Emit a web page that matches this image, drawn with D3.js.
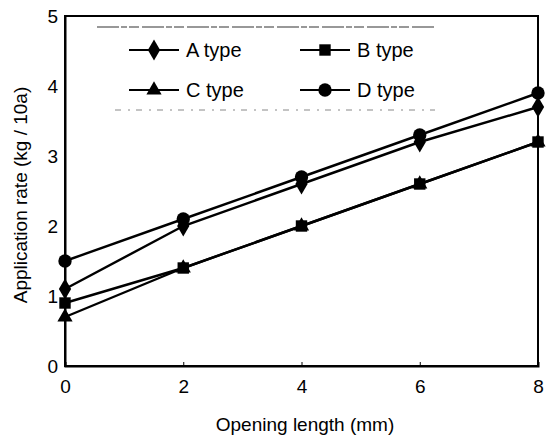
<!DOCTYPE html>
<html>
<head>
<meta charset="utf-8">
<script src="https://cdn.jsdelivr.net/npm/d3@7"></script>
<style>
  body { margin: 0; background: #fff; }
  svg text { font-family: "Liberation Sans", Arial, sans-serif; fill: #000; }
</style>
</head>
<body>
<svg id="chart"></svg>
<script>
const openings = [0, 2, 4, 6, 8];
const aType = [1.1, 2.0, 2.6, 3.2, 3.7];
const bType = [0.9, 1.4, 2.0, 2.6, 3.2];
const cType = [0.7, 1.4, 2.0, 2.6, 3.2];
const dType = [1.5, 2.1, 2.7, 3.3, 3.9];
const yTicks = [0, 1, 2, 3, 4, 5];

const width = 547;
const height = 441;
const margin = { top: 16, right: 9, bottom: 75, left: 65 };

const svg = d3.select('#chart')
  .attr('width', width)
  .attr('height', height);

const x = d3.scaleLinear().domain([0, 8]).range([margin.left, width - margin.right]);
const y = d3.scaleLinear().domain([0, 5]).range([height - margin.bottom, margin.top]);

// frame
svg.append('rect')
  .attr('x', x(0)).attr('y', y(5))
  .attr('width', x(8) - x(0)).attr('height', y(0) - y(5))
  .attr('fill', 'none').attr('stroke', '#000').attr('stroke-width', 2);

// axes
svg.append('g')
  .attr('transform', `translate(0,${y(0)})`)
  .call(d3.axisBottom(x).tickValues(openings).tickFormat(d3.format('d')).tickSize(-4).tickPadding(14))
  .call(g => g.select('.domain').attr('stroke-width', 2))
  .selectAll('text').attr('font-size', 19).attr('font-family', null);

svg.append('g')
  .attr('transform', `translate(${x(0)},0)`)
  .call(d3.axisLeft(y).tickValues(yTicks).tickFormat(d3.format('d')).tickSize(0).tickPadding(7))
  .call(g => g.select('.domain').attr('stroke-width', 2))
  .selectAll('text').attr('font-size', 19).attr('font-family', null);

// axis titles
svg.append('text')
  .attr('x', 305).attr('y', 431)
  .attr('text-anchor', 'middle').attr('font-size', 19)
  .text('Opening length (mm)');

svg.append('text')
  .attr('transform', `translate(27,195) rotate(-90)`)
  .attr('text-anchor', 'middle').attr('font-size', 19)
  .text('Application rate (kg / 10a)');

// series
const series = [
  { name: 'A type', values: aType, symbol: d3.symbolDiamond, size: 130 },
  { name: 'B type', values: bType, symbol: d3.symbolSquare, size: 130 },
  { name: 'C type', values: cType, symbol: d3.symbolTriangle, size: 100 },
  { name: 'D type', values: dType, symbol: d3.symbolCircle, size: 140 }
];

const line = d3.line()
  .x((d, i) => x(openings[i]))
  .y(d => y(d));

series.forEach(s => {
  svg.append('path')
    .datum(s.values)
    .attr('d', line)
    .attr('fill', 'none')
    .attr('stroke', '#000')
    .attr('stroke-width', 2.4);

  svg.selectAll(null)
    .data(s.values)
    .enter()
    .append('path')
    .attr('d', d3.symbol().type(s.symbol).size(s.size))
    .attr('transform', (d, i) => `translate(${x(openings[i])},${y(d)})`)
    .attr('fill', '#000');
});

// legend
const legend = svg.append('g');
legend.append('line')
  .attr('x1', 97).attr('x2', 435).attr('y1', 27).attr('y2', 27)
  .attr('stroke', '#333').attr('stroke-width', 1.2).attr('stroke-dasharray', '22 2 6 2 10 3');
legend.append('line')
  .attr('x1', 115).attr('x2', 435).attr('y1', 110).attr('y2', 110)
  .attr('stroke', '#888').attr('stroke-width', 1).attr('stroke-dasharray', '6 7 2 6');

const legendPos = [
  { x: 129, y: 50 },
  { x: 300, y: 50 },
  { x: 129, y: 90 },
  { x: 300, y: 90 }
];

series.forEach((s, i) => {
  const p = legendPos[i];
  const g = legend.append('g').attr('transform', `translate(${p.x},${p.y})`);
  g.append('line')
    .attr('x1', 0).attr('x2', 50)
    .attr('stroke', '#000').attr('stroke-width', 2.2);
  g.append('path')
    .attr('d', d3.symbol().type(s.symbol).size(s.size))
    .attr('transform', 'translate(25,0)')
    .attr('fill', '#000');
  g.append('text')
    .attr('x', 57).attr('y', 7)
    .attr('font-size', 20)
    .text(s.name);
});
</script>
</body>
</html>
